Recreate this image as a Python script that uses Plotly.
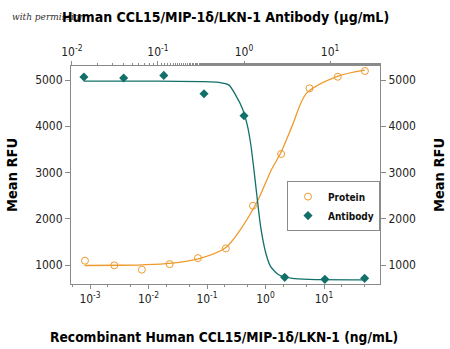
import plotly.graph_objects as go

# ---- data ----
protein_conc = [0.00082, 0.0026, 0.0077, 0.023, 0.07, 0.21, 0.61, 1.85, 5.65, 17.2, 50.0]
protein_rfu = [1093, 994, 900, 1020, 1150, 1360, 2282, 3400, 4820, 5070, 5195]

antibody_conc = [0.0138, 0.040, 0.117, 0.343, 1.0, 2.97, 8.7, 25.2]
antibody_rfu = [5065, 5043, 5100, 4704, 4228, 734, 690, 712]

# fitted curves
protein_fit_conc = [0.00081, 0.0032, 0.0078, 0.023, 0.074, 0.21, 0.36, 0.74, 1.25, 1.86, 2.9, 5.0, 17.4, 50.0]
protein_fit_rfu = [990, 995, 1005, 1035, 1140, 1380, 1740, 2400, 3050, 3450, 4030, 4710, 5085, 5215]

antibody_fit_conc = [0.0138, 0.1, 0.32, 0.51, 0.67, 0.8, 0.955, 1.09, 1.2, 1.31, 1.43, 1.56, 1.79, 2.04, 2.55, 3.63, 5.7, 25.5]
antibody_fit_rfu = [4975, 4975, 4965, 4950, 4890, 4675, 4390, 4030, 3600, 3030, 2405, 1830, 1260, 964, 784, 712, 690, 680]

bottom_ticks = [0.001, 0.01, 0.1, 1, 10]
bottom_ticktext = ["10<sup>-3</sup>", "10<sup>-2</sup>", "10<sup>-1</sup>", "10<sup>0</sup>", "10<sup>1</sup>"]
top_ticks = [0.01, 0.1, 1, 10]
top_ticktext = ["10<sup>-2</sup>", "10<sup>-1</sup>", "10<sup>0</sup>", "10<sup>1</sup>"]
y_ticks = [1000, 2000, 3000, 4000, 5000]

bottom_title = "Recombinant Human CCL15/MIP-1δ/LKN-1 (ng/mL)"
top_title = "Human CCL15/MIP-1δ/LKN-1 Antibody (µg/mL)"
y_title = "Mean RFU"
credit = "with permission"

ORANGE = "#EE9A2E"
TEAL = "#12706A"
FONT = "DejaVu Sans Condensed, Liberation Sans Narrow, sans-serif"
GREY = "#8a8a8a"

fig = go.Figure()

fig.add_trace(go.Scatter(x=protein_fit_conc, y=protein_fit_rfu, mode="lines",
                         line=dict(color=ORANGE, width=1.3, shape="spline", smoothing=0.8),
                         showlegend=False, hoverinfo="skip"))
fig.add_trace(go.Scatter(x=antibody_fit_conc, y=antibody_fit_rfu, mode="lines", xaxis="x2",
                         line=dict(color=TEAL, width=1.3, shape="spline", smoothing=0.6),
                         showlegend=False, hoverinfo="skip"))
fig.add_trace(go.Scatter(x=protein_conc, y=protein_rfu, mode="markers", name="Protein",
                         marker=dict(symbol="circle-open", size=7, color=ORANGE, line=dict(width=1))))
fig.add_trace(go.Scatter(x=antibody_conc, y=antibody_rfu, mode="markers", name="Antibody", xaxis="x2",
                         marker=dict(symbol="diamond", size=7, color=TEAL)))
# invisible trace to activate the right y axis
fig.add_trace(go.Scatter(x=[0.01], y=[3000], yaxis="y2", mode="markers",
                         marker=dict(opacity=0), showlegend=False, hoverinfo="skip"))

tickfont = dict(family=FONT, size=12, color="#222")
common_log = dict(type="log", showgrid=False, zeroline=False, automargin=False,
                  showline=True, linecolor=GREY, linewidth=1, ticks="outside", ticklen=4,
                  tickcolor=GREY, tickfont=tickfont,
                  minor=dict(ticks="outside", ticklen=2, tickcolor=GREY, showgrid=False))
ytitle_font = dict(family=FONT, size=14.5, color="#000", weight="bold")
common_y = dict(range=[590, 5303], tickvals=y_ticks, showgrid=False, zeroline=False, showline=True,
                automargin=False,
                linecolor=GREY, ticks="outside", ticklen=5, tickcolor=GREY, tickfont=tickfont)

fig.update_layout(
    width=450, height=349,
    margin=dict(l=71, r=70, t=66, b=65),
    paper_bgcolor="white", plot_bgcolor="white",
    font=dict(family=FONT, color="#111"),
    xaxis=dict(range=[-3.325, 1.957], side="bottom", tickvals=bottom_ticks, ticktext=bottom_ticktext,
               **common_log),
    xaxis2=dict(range=[-2.01, 1.58], side="top", overlaying="x", anchor="y",
                tickvals=top_ticks, ticktext=top_ticktext, **common_log),
    yaxis=dict(title=dict(text=y_title, font=ytitle_font, standoff=14), **common_y),
    yaxis2=dict(overlaying="y", side="right",
                title=dict(text=y_title, font=ytitle_font, standoff=18), **common_y),
    legend=dict(x=0.699, y=0.472, xanchor="left", yanchor="top", bgcolor="white",
                bordercolor=GREY, borderwidth=1,
                font=dict(family=FONT, size=10, color="#111", weight="bold"),
                itemwidth=30, tracegroupgap=2),
    showlegend=True,
)

fig.add_annotation(text=credit, xref="paper", yref="paper", x=-0.197, y=1.225,
                   xanchor="left", yanchor="middle", showarrow=False,
                   font=dict(family="DejaVu Serif", size=9, color="#333", style="italic"))
fig.add_annotation(text=top_title, xref="paper", yref="paper", x=0.5, y=1.225,
                   xanchor="center", yanchor="middle", showarrow=False,
                   font=dict(family=FONT, size=14, color="#000", weight="bold"))
fig.add_annotation(text=bottom_title, xref="paper", yref="paper", x=0.495, y=-0.243,
                   xanchor="center", yanchor="middle", showarrow=False,
                   font=dict(family=FONT, size=13.7, color="#000", weight="bold"))

fig.write_html("out.html")
